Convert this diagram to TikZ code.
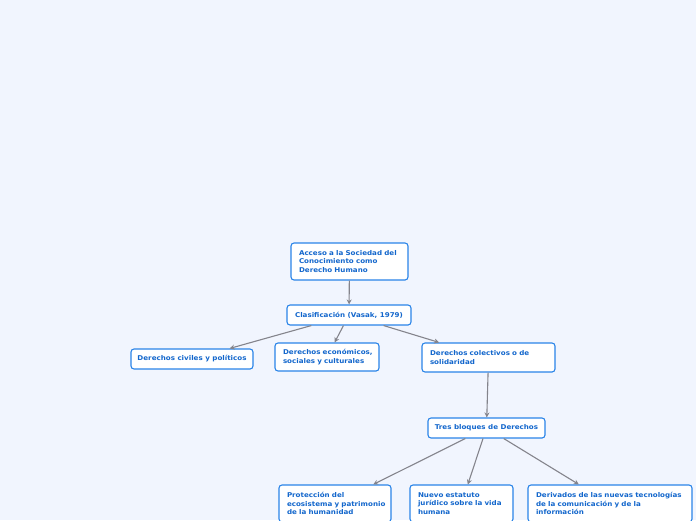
\documentclass[tikz,border=0pt]{standalone}
\usepackage{fontspec}
\setmainfont{DejaVu Sans}
\newfontfamily\boxfont[FakeStretch=1.08]{DejaVu Sans}
\usetikzlibrary{arrows.meta}
\definecolor{bgc}{RGB}{241,245,254}
\definecolor{txtc}{RGB}{18,102,204}
\definecolor{brdc}{RGB}{42,132,232}
\definecolor{edgec}{RGB}{132,132,140}
\tikzset{
  box/.style={draw=brdc, fill=white, line width=1.1pt, rounded corners=3pt,
    inner sep=0pt, text=txtc, font=\boxfont\fontsize{6.6}{8.5}\selectfont\bfseries},
  conn/.style={draw=edgec, line width=1.1pt, -{Stealth[length=5pt,width=5pt]}}
}
\begin{document}
\begin{tikzpicture}[x=1pt,y=-1pt]
\useasboundingbox (0,0) rectangle (696,520);
\fill[bgc] (0,0) rectangle (696,520);
\begin{scope}
\clip (0,0) rectangle (696,520);
\node[box, minimum width=117, minimum height=37, text width=101, align=left] (root) at (349.5,261.5)
  {\mbox{Acceso a la Sociedad del}\\\mbox{Conocimiento como}\\\mbox{Derecho Humano}};
\node[box, minimum width=124, minimum height=20, align=center] (clas) at (349,315)
  {Clasificación (Vasak, 1979)};
\node[box, minimum width=122, minimum height=20, align=center] (civ) at (192,359)
  {Derechos civiles y políticos};
\node[box, minimum width=104, minimum height=28, text width=88, align=left] (econ) at (327,357)
  {\mbox{Derechos económicos,}\\\mbox{sociales y culturales}};
\node[box, minimum width=133, minimum height=29, text width=117, align=left] (col) at (488.5,357.5)
  {\mbox{Derechos colectivos o de}\\\mbox{solidaridad}};
\node[box, minimum width=117, minimum height=20, align=center] (tres) at (486.5,428)
  {Tres bloques de Derechos};
\node[box, minimum width=112, minimum height=37, text width=96, align=left] (prot) at (335,503.5)
  {\mbox{Protección del}\\\mbox{ecosistema y patrimonio}\\\mbox{de la humanidad}};
\node[box, minimum width=103, minimum height=37, text width=87, align=left] (nuevo) at (461.5,503.5)
  {\mbox{Nuevo estatuto}\\\mbox{jurídico sobre la vida}\\\mbox{humana}};
\node[box, minimum width=164, minimum height=37, text width=148, align=left] (deriv) at (610,503.5)
  {\mbox{Derivados de las nuevas tecnologías}\\\mbox{de la comunicación y de la}\\\mbox{información}};
\draw[conn] (root) -- (clas);
\draw[conn] (clas) -- (civ);
\draw[conn] (clas) -- (econ);
\draw[conn] (clas) -- (col);
\draw[conn] (col) -- (tres);
\draw[conn] (tres) -- (prot);
\draw[conn] (tres) -- (nuevo);
\draw[conn] (tres) -- (deriv);
\end{scope}
\end{tikzpicture}
\end{document}
